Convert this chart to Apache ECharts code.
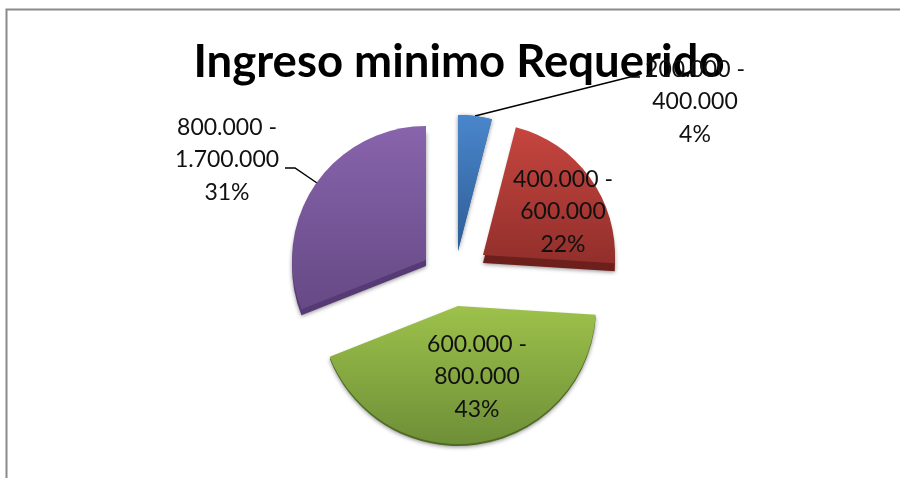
<!DOCTYPE html>
<html><head><meta charset="utf-8">
<style>html,body{margin:0;padding:0;background:#fff}#c{width:900px;height:478px}</style>
<script src="https://cdn.jsdelivr.net/npm/echarts@6/dist/echarts.min.js"></script>
</head><body><div id="c"></div>
<script>
const chartTitle = 'Ingreso minimo Requerido';
const categories = ['200.000 -\n400.000', '400.000 -\n600.000', '600.000 -\n800.000', '800.000 -\n1.700.000'];
const shares = [4, 22, 43, 31];

// Presentation of each exploded slice
const centers = [[458,251],[483,255],[458,306],[426,260]];
const radii = [136,132,138,134];
const depths = [0,8,2,6];
const topColors = ['#4a86cc','#c6453f','#9dc14b','#8864ac'];
const bottomColors = ['#2e5d95','#922f2b','#6e8f37','#664985'];
const sideColors = ['#2e5d95','#6d1f1c','#4f6a23','#553a75'];
const labelAt = [[695,102],[563,212],[477,377],[227,160]];
const leaderLines = [[[475,116],[630,77],[640,77]],null,null,[[317,183],[295,168],[285,168]]];

const chart = echarts.init(document.getElementById('c'));
function grad(a,b){return new echarts.graphic.LinearGradient(0,0,0,1,[{offset:0,color:a},{offset:1,color:b}]);}
function slice(i, isTop){
  const depth = isTop ? 0 : depths[i];
  return {
    type:'pie', z:isTop?3:2, silent:!isTop, animation:false,
    center:[centers[i][0],centers[i][1]+depth], radius:[0,radii[i]],
    startAngle:90, clockwise:true, avoidLabelOverlap:false,
    emphasis:{disabled:true},
    labelLayout:isTop ? function(){
      const o={x:labelAt[i][0],y:labelAt[i][1],align:'center',verticalAlign:'middle'};
      if(leaderLines[i]) o.labelLinePoints=leaderLines[i];
      return o;
    } : undefined,
    data:categories.map((name,j)=>({
      name, value:shares[j],
      itemStyle: j===i ? (isTop ? {color:grad(topColors[i],bottomColors[i])}
          : {color:sideColors[i],shadowColor:'rgba(0,0,0,0.45)',shadowBlur:4,shadowOffsetY:1})
        : {color:'rgba(0,0,0,0)'},
      label:{show:isTop&&j===i,position:'outside',formatter:'{b}\n{c}%',
        fontFamily:'Lato',fontSize:23,lineHeight:32.5,color:'#111'},
      labelLine:{show:isTop&&j===i&&(i===0||i===3),smooth:false,length:14,length2:10,
        lineStyle:{color:'#000',width:1.5}}
    }))
  };
}
const series=[];
categories.forEach((_,i)=>{series.push(slice(i,false));});
categories.forEach((_,i)=>{series.push(slice(i,true));});
chart.setOption({
  backgroundColor:'#fff', animation:false,
  title:{text:chartTitle,left:454,top:34,textAlign:'center',z:1,
    textStyle:{fontFamily:'Lato',fontWeight:'bold',fontSize:45.5,color:'#000'}},
  graphic:[{type:'polyline',z:0,shape:{points:[[6.5,478],[6.5,9.5],[900,9.5]]},
    style:{fill:null,stroke:'#8a8a8a',lineWidth:2}}],
  series
});
</script></body></html>
